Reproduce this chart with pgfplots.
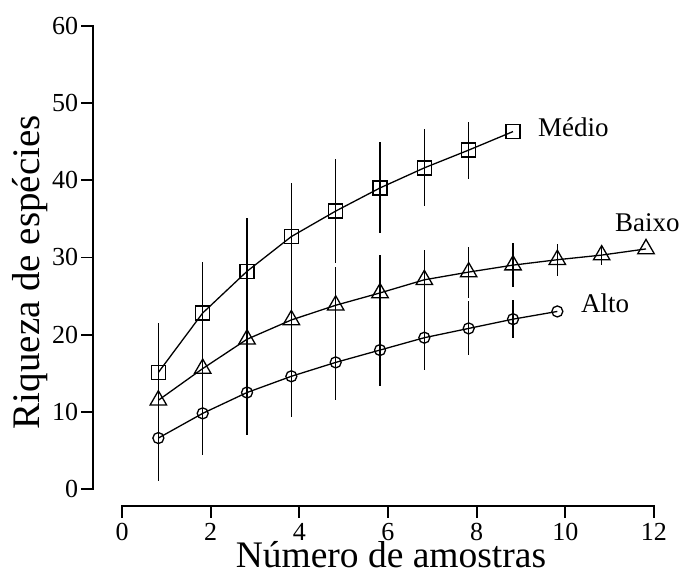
\documentclass[border=0pt]{standalone}
\usepackage{fontspec}
\setmainfont{Liberation Serif}
\usepackage{pgfplots}
\pgfplotsset{compat=1.18}
\usepackage{pgfplotstable}

\pgfplotstableread{
x y e
0.82 15.1 6.4
1.82 22.8 6.6
2.82 28.2 6.9
3.82 32.7 6.9
4.82 36.0 6.7
5.82 39.0 5.9
6.82 41.6 5.0
7.82 43.9 3.7
8.82 46.3 0
}\medio

\pgfplotstableread{
x y e
0.82 11.5 5.5
1.82 15.6 5.5
2.82 19.4 5.4
3.82 21.9 5.2
4.82 23.8 5.0
5.82 25.4 4.9
6.82 27.1 3.9
7.82 28.1 3.3
8.82 29.0 2.85
9.82 29.7 2.1
10.82 30.3 1.3
11.82 31.1 0
}\baixo

\pgfplotstableread{
x y e
0.82 6.6 5.6
1.82 9.8 5.4
2.82 12.5 5.5
3.82 14.6 5.3
4.82 16.4 4.9
5.82 18.0 4.6
6.82 19.6 4.2
7.82 20.8 3.5
8.82 22.0 2.5
9.82 23.0 0
}\alto

\newcommand{\tickfont}{\fontsize{26}{30}\selectfont}
\begin{document}
\begin{tikzpicture}
\path[use as bounding box] (-93.2pt,-66pt) rectangle (588.8pt,506pt);
\begin{axis}[
  x=44.33pt, y=7.72pt,
  xmin=-0.65, xmax=12, ymin=-2.2, ymax=60,
  axis x line=bottom, axis y line=left,
  axis line style={draw=none, -},
  clip=false,
  xtick={0,2,...,12}, ytick={0,10,...,60},
  tick align=outside,
  major tick length=12pt,
  tick style={line width=1.8pt, black},
  /pgf/number format/assume math mode=true,
  xticklabel style={font=\tickfont, anchor=north, inner sep=0pt, yshift=-5pt},
  yticklabel style={font=\tickfont, anchor=east, inner sep=0pt, xshift=-3pt},
  every axis y label/.style={at={(axis description cs:-0.0966,0.487)}, rotate=90, anchor=base, inner sep=0pt, font=\fontsize{39}{45}\selectfont},
  every axis x label/.style={at={(axis description cs:0.531,-0.1290)}, anchor=base, inner sep=0pt, font=\fontsize{37.5}{44}\selectfont},
  xlabel={Número de amostras},
  ylabel={Riqueza de espécies},
  error bars/error bar style={line width=1.3pt, black},
  error bars/error mark=none,
]
\draw[line width=1.8pt, line cap=rect] (axis cs:0,-2.2) -- (axis cs:12,-2.2);
\draw[line width=1.8pt, line cap=rect] (axis cs:-0.65,0) -- (axis cs:-0.65,60);

\addplot[black, line width=1.3pt, mark=square, mark size=7pt, mark options={solid, fill=none, line width=1.3pt},
  error bars/.cd, y dir=both, y explicit]
  table[x=x, y=y, y error=e] {\medio};
\addplot[black, line width=1.3pt, mark=triangle, mark size=9.5pt, mark options={solid, fill=none, line width=1.3pt},
  error bars/.cd, y dir=both, y explicit]
  table[x=x, y=y, y error=e] {\baixo};
\addplot[black, line width=1.3pt, mark=o, mark size=5.5pt, mark options={solid, fill=none, line width=1.3pt},
  error bars/.cd, y dir=both, y explicit]
  table[x=x, y=y, y error=e] {\alto};

\node[anchor=base west, inner sep=0pt, font=\fontsize{27}{32}\selectfont] at (axis cs:9.38,45.7) {Médio};
\node[anchor=base west, inner sep=0pt, font=\fontsize{27}{32}\selectfont] at (axis cs:11.12,33.3) {Baixo};
\node[anchor=base west, inner sep=0pt, font=\fontsize{27}{32}\selectfont] at (axis cs:10.35,22.9) {Alto};
\end{axis}
\end{tikzpicture}
\end{document}
